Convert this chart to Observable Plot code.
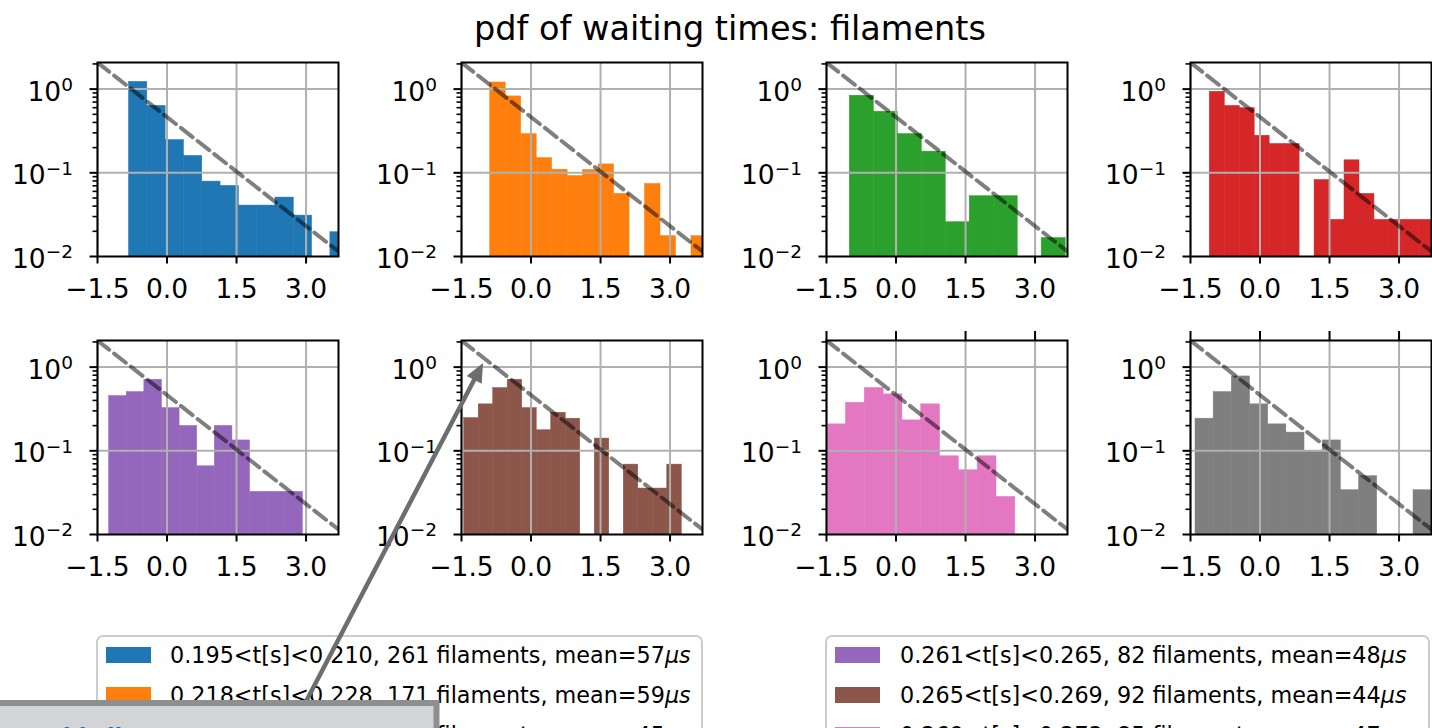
<!DOCTYPE html>
<html><head><meta charset="utf-8">
<script src="https://cdn.jsdelivr.net/npm/d3@7"></script>
<script src="https://cdn.jsdelivr.net/npm/@observablehq/plot@0.6"></script>
<style>
html,body{margin:0;padding:0;background:#fff;overflow:hidden;}
#root{position:relative;width:1432px;height:728px;overflow:hidden;font-family:"DejaVu Sans",sans-serif;}
.panel{position:absolute;}
.panel svg{max-width:none !important;}
#overlay{position:absolute;left:0;top:0;}
</style></head>
<body><div id="root"></div>
<script>
// ---------- data ----------
const titleText = "pdf of waiting times: filaments";
const colors = ["#1f77b4","#ff7f0e","#2ca02c","#d62728","#9467bd","#8c564b","#e377c2","#7f7f7f"];
// histogram bin layout (first left edge and bin width, in x units) per panel
const binStart = [-0.82, -0.88, -0.997, -1.084, -1.249, -1.442, -1.486, -1.392];
const binWidth = [0.395, 0.334, 0.5175, 0.323, 0.38, 0.313, 0.406, 0.392];
// pdf values per bin (0 = empty bin)
const pdfBlue   = [1.22, 0.63, 0.246, 0.159, 0.0785, 0.0697, 0.0406, 0.0406, 0.0506, 0.0308, 0, 0.0195];
const pdfOrange = [1.20, 0.818, 0.29, 0.150, 0.109, 0.0917, 0.108, 0.126, 0.056, 0, 0.0736, 0.0175, 0, 0.0175];
const pdfGreen  = [0.833, 0.537, 0.29, 0.179, 0.0257, 0.0525, 0.0525, 0, 0.0166];
const pdfRed    = [0.93, 0.63, 0.593, 0.277, 0.221, 0.221, 0, 0.082, 0.0274, 0.141, 0.056, 0.0274, 0.0274, 0.0274, 0.0274];
const pdfPurple = [0.451, 0.503, 0.706, 0.324, 0.198, 0.0653, 0.198, 0.133, 0.0323, 0.0323, 0.0323];
const pdfBrown  = [0.246, 0.359, 0.562, 0.706, 0.324, 0.176, 0.285, 0.242, 0, 0.14, 0, 0.0684, 0.0354, 0.0354, 0.0684];
const pdfPink   = [0.207, 0.375, 0.562, 0.472, 0.231, 0.359, 0.086, 0.0585, 0.086, 0.0281];
const pdfGrey   = [0.242, 0.503, 0.774, 0.359, 0.207, 0.165, 0.0986, 0.133, 0.0338, 0.0497, 0, 0, 0.0338];
const pdfs = [pdfBlue, pdfOrange, pdfGreen, pdfRed, pdfPurple, pdfBrown, pdfPink, pdfGrey];
// reference exponential (dashed line)
const refAmp = 0.464;
const refX = [-1.5, 3.7];
// axes
const xDomain = [-1.5, 3.7];
const yDomain = [0.01, 2.08];
const xTicks = [-1.5, 0, 1.5, 3.0];
const xTickLabels = ["\u22121.5", "0.0", "1.5", "3.0"];
const yMajor = [0.01, 0.1, 1];
const yMinor = [0.02,0.03,0.04,0.05,0.06,0.07,0.08,0.09,0.2,0.3,0.4,0.5,0.6,0.7,0.8,0.9,2];
// legend
const tLow  = ["0.195","0.218","0.228","0.238","0.261","0.265","0.269","0.273"];
const tHigh = ["0.210","0.228","0.238","0.250","0.265","0.269","0.273","0.277"];
const nFil  = [261, 171, 120, 105, 82, 92, 85, 90];
const meanUs = [57, 59, 45, 50, 48, 44, 47, 46];
const noteText = "see this line";

// ---------- layout ----------
const root = document.getElementById("root");
const panelLeft = [97, 461, 826, 1190];
const panelTop = [62, 340];
const ML = 80, MR = 8, MT = 16, MB = 62, PW = 241, PH = 194;
const FS = 26.5;

pdfs.forEach((vals, i) => {
  const col = i % 4, row = Math.floor(i / 4);
  const bins = vals.map((v, k) => ({
    x1: binStart[i] + k * binWidth[i],
    x2: binStart[i] + (k + 1) * binWidth[i],
    y: v
  })).filter(d => d.y > 0);
  const marks = [
    Plot.rect(bins, {x1: "x1", x2: "x2", y1: () => yDomain[0], y2: "y",
      fill: colors[i], stroke: colors[i], strokeWidth: 0.5, clip: true}),
    Plot.gridX(xTicks, {stroke: "#b0b0b0", strokeOpacity: 1, strokeWidth: 2}),
    Plot.gridY([0.1, 1], {stroke: "#b0b0b0", strokeOpacity: 1, strokeWidth: 2}),
    Plot.line(refX, {x: d => d, y: d => refAmp * Math.exp(-d), stroke: "black",
      strokeOpacity: 0.5, strokeWidth: 4, strokeDasharray: "14.8,6.4", clip: true}),
    Plot.frame({stroke: "black", strokeWidth: 2}),
    Plot.axisX(xTicks, {tickSize: 7.5, tickPadding: 15, strokeWidth: 2, label: null,
      tickFormat: d => xTickLabels[xTicks.indexOf(d)]}),
    Plot.axisY(yMinor, {tickSize: 4.5, strokeWidth: 1.6, label: null, tickFormat: () => ""}),
    Plot.axisY(yMajor, {tickSize: 7.5, tickPadding: 17, strokeWidth: 2, label: null,
      tickFormat: d => String(Math.round(Math.log10(d)))})
  ];
  if (i >= 6) marks.push(Plot.axisX(xTicks, {anchor: "top", tickSize: 10, strokeWidth: 2, label: null, tickFormat: () => ""}));
  const W = ML + PW + MR, H = MT + PH + MB;
  const svg = Plot.plot({
    width: W, height: H,
    marginLeft: ML, marginRight: MR, marginTop: MT, marginBottom: MB,
    style: {fontFamily: "'DejaVu Sans', sans-serif", fontSize: FS + "px", color: "#000",
      background: "transparent", overflow: "visible", maxWidth: "none"},
    x: {domain: xDomain},
    y: {type: "log", domain: yDomain},
    marks
  });
  svg.style.maxWidth = "none";
  svg.style.width = W + "px";
  svg.style.height = H + "px";
  // superscript exponents on the log y axis
  d3.select(svg).selectAll('g[aria-label="y-axis tick label"] text').each(function () {
    const e = this.textContent;
    if (!e) return;
    this.textContent = "10";
    this.setAttribute("y", "0.44em");
    const ts = document.createElementNS("http://www.w3.org/2000/svg", "tspan");
    ts.setAttribute("dy", "-9.7");
    ts.setAttribute("font-size", "18.5");
    ts.textContent = e.replace("-", "\u2212");
    this.appendChild(ts);
  });
  const wrap = document.createElement("div");
  wrap.className = "panel";
  wrap.style.left = (panelLeft[col] - ML) + "px";
  wrap.style.top = (panelTop[row] - MT) + "px";
  wrap.style.width = W + "px";
  wrap.style.height = H + "px";
  wrap.appendChild(svg);
  root.appendChild(wrap);
});

// ---------- overlay: title, legends, annotation ----------
const ov = d3.select(root).append("svg").attr("id", "overlay")
  .attr("width", 1432).attr("height", 728)
  .style("font-family", "'DejaVu Sans', sans-serif");

ov.append("text").attr("x", 730).attr("y", 40).attr("text-anchor", "middle")
  .attr("font-size", 33.5).attr("fill", "#000").text(titleText);

const legendBoxes = [{x: 97, w: 605, tx: 73, items: [0, 1, 2, 3]}, {x: 826, w: 603, tx: 74, items: [4, 5, 6, 7]}];
legendBoxes.forEach(b => {
  ov.append("rect").attr("x", b.x).attr("y", 636).attr("width", b.w).attr("height", 160)
    .attr("rx", 6).attr("fill", "white").attr("fill-opacity", 0.8)
    .attr("stroke", "#cccccc").attr("stroke-width", 2);
  b.items.forEach((idx, r) => {
    const cy = 655 + r * 40;
    ov.append("rect").attr("x", b.x + 9).attr("y", cy - 8).attr("width", 45).attr("height", 16)
      .attr("fill", colors[idx]);
    const t = ov.append("text").attr("x", b.x + b.tx).attr("y", cy + 8)
      .attr("font-size", 22.3).attr("fill", "#000");
    t.append("tspan").text(`${tLow[idx]}<t[s]<${tHigh[idx]}, ${nFil[idx]} filaments, mean=${meanUs[idx]}`);
    t.append("tspan").attr("font-style", "italic").text("\u03bcs");
  });
});

// arrow annotation
const tail = [300, 713], tip = [483, 363];
const dx = tip[0] - tail[0], dy = tip[1] - tail[1], L = Math.hypot(dx, dy);
const ux = dx / L, uy = dy / L, hl = 19, hw = 8.5;
const bx = tip[0] - ux * hl, by = tip[1] - uy * hl;
ov.append("line").attr("x1", tail[0]).attr("y1", tail[1]).attr("x2", bx + ux * 2).attr("y2", by + uy * 2)
  .attr("stroke", "#6c6d6f").attr("stroke-width", 4.5);
ov.append("polygon").attr("points",
  `${tip[0]},${tip[1]} ${bx - uy * hw},${by + ux * hw} ${bx + uy * hw},${by - ux * hw}`)
  .attr("fill", "#6c6d6f");

// grey note box (cut by the bottom edge)
ov.append("rect").attr("x", -10).attr("y", 703).attr("width", 446.5).attr("height", 60)
  .attr("fill", "#d3d4d6").attr("stroke", "#8e8f91").attr("stroke-width", 6);
ov.append("text").attr("x", 2).attr("y", 743).attr("font-size", 22).attr("font-weight", "bold")
  .attr("fill", "#1a6fc4").text(noteText);
</script>
</body></html>
